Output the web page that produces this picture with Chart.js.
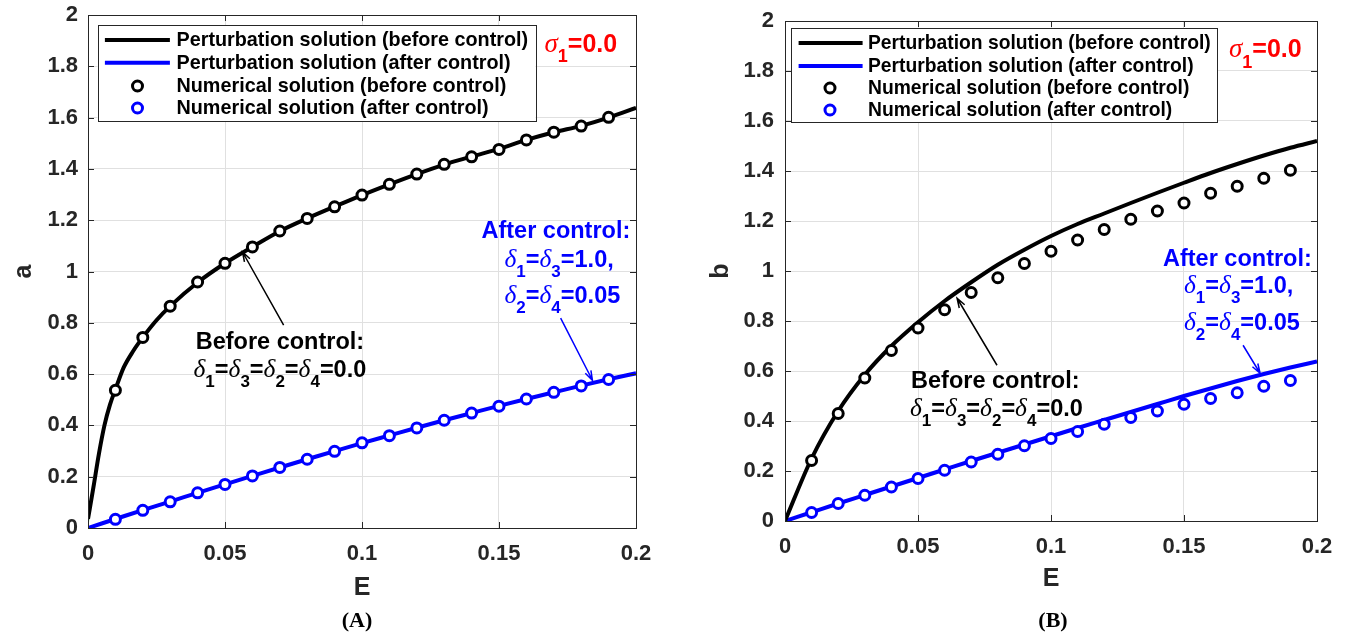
<!DOCTYPE html>
<html>
<head>
<meta charset="utf-8">
<script src="https://cdn.jsdelivr.net/npm/chart.js@4.4.0/dist/chart.umd.min.js"></script>
<style>
  html, body { margin: 0; padding: 0; background: #fff; width: 1353px; height: 634px; overflow: hidden; }
  .panel { position: absolute; top: 0; }
  #wrapA { left: 0; }
  #wrapB { left: 676px; }
  .cap { position: absolute; top: 620px; transform: translate(-50%, -50%);
         font: bold 22px "Liberation Serif", "Times New Roman", serif; color: #000; white-space: nowrap; }
</style>
</head>
<body>
<div class="panel" id="wrapA"><canvas id="chartA" width="676" height="610"></canvas></div>
<div class="panel" id="wrapB"><canvas id="chartB" width="677" height="610"></canvas></div>
<div class="cap" style="left:357px">(A)</div>
<div class="cap" style="left:1053px">(B)</div>

<script>
// ---------- data ----------
const E_NUM = [0.01, 0.02, 0.03, 0.04, 0.05, 0.06, 0.07, 0.08, 0.09, 0.10,
               0.11, 0.12, 0.13, 0.14, 0.15, 0.16, 0.17, 0.18, 0.19];
const E_PERT = [0, 0.01, 0.02, 0.03, 0.04, 0.05, 0.06, 0.07, 0.08, 0.09, 0.10,
                0.11, 0.12, 0.13, 0.14, 0.15, 0.16, 0.17, 0.18, 0.19, 0.20];
const E_PERT_A_BEFORE = [0, 0.002, 0.004, 0.006, 0.008, 0.01, 0.013, 0.0165, 0.02, 0.025, 0.03,
                         0.04, 0.05, 0.06, 0.07, 0.08, 0.09, 0.10, 0.11, 0.12,
                         0.13, 0.14, 0.15, 0.16, 0.17, 0.18, 0.19, 0.20];

// amplitude a
const A_PERT_BEFORE = [0.035, 0.16, 0.29, 0.40, 0.48, 0.54, 0.625, 0.69, 0.743, 0.81, 0.865,
                       0.957, 1.032, 1.096, 1.157, 1.207, 1.253, 1.298, 1.34, 1.38,
                       1.417, 1.448, 1.478, 1.513, 1.543, 1.568, 1.600, 1.638];
const A_PERT_AFTER = [0, 0.035, 0.07, 0.103, 0.137, 0.170, 0.203, 0.236, 0.268, 0.300, 0.331,
                      0.361, 0.391, 0.420, 0.448, 0.476, 0.503, 0.529, 0.555, 0.580, 0.603];
const A_NUM_BEFORE = [0.537, 0.743, 0.865, 0.959, 1.032, 1.096, 1.158, 1.207, 1.252, 1.298,
                      1.340, 1.380, 1.418, 1.447, 1.476, 1.513, 1.543, 1.567, 1.601];
const A_NUM_AFTER = [0.034, 0.069, 0.102, 0.137, 0.170, 0.203, 0.236, 0.268, 0.299, 0.332,
                     0.360, 0.390, 0.420, 0.448, 0.475, 0.503, 0.529, 0.554, 0.579];
const A_START_E = [0, 0];
const A_START_V = [0.03, 0];

// amplitude b
const B_PERT_BEFORE = [0, 0.25, 0.44, 0.585, 0.70, 0.795, 0.88, 0.955, 1.025, 1.085, 1.14,
                       1.188, 1.23, 1.272, 1.313, 1.353, 1.392, 1.428, 1.462, 1.493, 1.52];
const B_PERT_AFTER = [0, 0.035, 0.07, 0.104, 0.138, 0.172, 0.206, 0.24, 0.273, 0.306, 0.339,
                      0.372, 0.404, 0.436, 0.468, 0.50, 0.53, 0.56, 0.588, 0.614, 0.638];
const B_NUM_BEFORE = [0.242, 0.43, 0.572, 0.682, 0.772, 0.845, 0.914, 0.973, 1.03, 1.079,
                      1.124, 1.166, 1.207, 1.24, 1.272, 1.311, 1.339, 1.371, 1.403];
const B_NUM_AFTER = [0.034, 0.07, 0.103, 0.136, 0.17, 0.203, 0.236, 0.267, 0.301, 0.33,
                     0.358, 0.387, 0.414, 0.44, 0.467, 0.49, 0.513, 0.539, 0.562];
const B_START_E = [0];
const B_START_V = [0];

const X_TICKS = [0, 0.05, 0.1, 0.15, 0.2];
const X_TICK_LABELS = ['0', '0.05', '0.1', '0.15', '0.2'];
const Y_TICKS = [0, 0.2, 0.4, 0.6, 0.8, 1, 1.2, 1.4, 1.6, 1.8, 2];
const Y_TICK_LABELS = ['0', '0.2', '0.4', '0.6', '0.8', '1', '1.2', '1.4', '1.6', '1.8', '2'];

const LEGEND_LABELS = ['Perturbation solution (before control)',
                       'Perturbation solution (after control)',
                       'Numerical solution (before control)',
                       'Numerical solution (after control)'];

// ---------- helpers ----------
const SANS = '"Liberation Sans", Arial, Helvetica, sans-serif';
const SERIF = '"Liberation Serif", "Times New Roman", serif';
const AXIS_COLOR = '#262626';
const zip = (xs, ys) => xs.map((x, i) => ({ x: x, y: ys[i] }));

// rich text: parts are [text, kind]; kind 'b' bold sans, 'g' italic greek, 's' subscript
function drawRich(ctx, x, y, parts, color, size) {
  ctx.save();
  ctx.fillStyle = color;
  ctx.textAlign = 'left';
  ctx.textBaseline = 'alphabetic';
  let cx = x;
  for (const [t, kind] of parts) {
    let dy = 0;
    if (kind === 'g') ctx.font = 'italic ' + (size + 2) + 'px ' + SERIF;
    else if (kind === 's') { ctx.font = 'bold ' + Math.round(size * 0.72) + 'px ' + SANS; dy = size * 0.42; }
    else ctx.font = 'bold ' + size + 'px ' + SANS;
    ctx.fillText(t, cx, y + dy);
    cx += ctx.measureText(t).width;
  }
  ctx.restore();
}

function drawArrow(ctx, x0, y0, x1, y1, color) {
  const ang = Math.atan2(y1 - y0, x1 - x0);
  const hl = 10, ha = 0.32;
  ctx.save();
  ctx.strokeStyle = color;
  ctx.lineWidth = 1.5;
  ctx.beginPath();
  ctx.moveTo(x0, y0);
  ctx.lineTo(x1, y1);
  ctx.moveTo(x1 - hl * Math.cos(ang - ha), y1 - hl * Math.sin(ang - ha));
  ctx.lineTo(x1, y1);
  ctx.lineTo(x1 - hl * Math.cos(ang + ha), y1 - hl * Math.sin(ang + ha));
  ctx.stroke();
  ctx.restore();
}

// axes box with inward ticks, legend, annotations
const panelDecor = {
  id: 'panelDecor',
  afterDatasetsDraw(chart, args, opts) {
    const ctx = chart.ctx;
    const { left, right, top, bottom } = chart.chartArea;
    const xs = chart.scales.x, ys = chart.scales.y;

    ctx.save();
    ctx.strokeStyle = AXIS_COLOR;
    ctx.lineWidth = 1;
    ctx.strokeRect(Math.round(left) + 0.5, Math.round(top) + 0.5,
                   Math.round(right - left), Math.round(bottom - top));
    ctx.beginPath();
    for (const v of X_TICKS) {
      const px = Math.round(xs.getPixelForValue(v)) + 0.5;
      ctx.moveTo(px, bottom); ctx.lineTo(px, bottom - 6);
      ctx.moveTo(px, top); ctx.lineTo(px, top + 6);
    }
    for (const v of Y_TICKS) {
      const py = Math.round(ys.getPixelForValue(v)) + 0.5;
      ctx.moveTo(left, py); ctx.lineTo(left + 6, py);
      ctx.moveTo(right, py); ctx.lineTo(right - 6, py);
    }
    ctx.stroke();
    ctx.restore();

    // annotation arrows and texts
    for (const a of opts.arrows) {
      drawArrow(ctx, xs.getPixelForValue(a.from[0]), ys.getPixelForValue(a.from[1]),
                xs.getPixelForValue(a.to[0]), ys.getPixelForValue(a.to[1]), a.color);
    }
    for (const n of opts.notes) {
      drawRich(ctx, xs.getPixelForValue(n.at[0]), ys.getPixelForValue(n.at[1]), n.parts, n.color, n.size);
    }

    // legend
    const L = opts.legend;
    const bx = left + L.dx, by = top + L.dy;
    ctx.save();
    ctx.fillStyle = '#fff';
    ctx.fillRect(bx, by, L.w, L.h);
    ctx.strokeStyle = AXIS_COLOR;
    ctx.lineWidth = 1;
    ctx.strokeRect(Math.round(bx) + 0.5, Math.round(by) + 0.5, L.w, L.h);
    const items = chart.data.datasets.filter(d => d.legendRank !== undefined)
                                     .sort((p, q) => p.legendRank - q.legendRank);
    items.forEach((d, i) => {
      const ry = by + L.rows[i];
      if (d.showLine) {
        ctx.strokeStyle = d.borderColor;
        ctx.lineWidth = d.borderWidth;
        ctx.beginPath();
        ctx.moveTo(bx + L.line0, ry);
        ctx.lineTo(bx + L.line1, ry);
        ctx.stroke();
      } else {
        ctx.strokeStyle = d.borderColor;
        ctx.fillStyle = '#fff';
        ctx.lineWidth = d.borderWidth;
        ctx.beginPath();
        ctx.arc(bx + L.mark, ry, d.pointRadius, 0, Math.PI * 2);
        ctx.fill();
        ctx.stroke();
      }
      ctx.fillStyle = '#000';
      ctx.font = 'bold ' + L.font + 'px ' + SANS;
      ctx.textBaseline = 'middle';
      ctx.textAlign = 'left';
      ctx.fillText(d.label, bx + L.text, ry + 1);
    });
    ctx.restore();
  }
};

function datasets(ePertBefore, pertBefore, pertAfter, numBefore, numAfter, startE, startV) {
  return [
    { label: 'start', data: zip(startE, startV), showLine: false, pointStyle: 'rect',
      pointRadius: 1.6, pointBorderWidth: 0, backgroundColor: '#00e600', borderColor: '#00e600', order: 0 },
    { label: LEGEND_LABELS[2], legendRank: 2, data: zip(E_NUM, numBefore), showLine: false,
      pointRadius: 5, borderWidth: 3, pointBorderWidth: 3, borderColor: '#000000',
      backgroundColor: '#ffffff', pointBackgroundColor: '#ffffff', order: 1 },
    { label: LEGEND_LABELS[3], legendRank: 3, data: zip(E_NUM, numAfter), showLine: false,
      pointRadius: 5, borderWidth: 3, pointBorderWidth: 3, borderColor: '#0000ff',
      backgroundColor: '#ffffff', pointBackgroundColor: '#ffffff', order: 1 },
    { label: LEGEND_LABELS[0], legendRank: 0, data: zip(ePertBefore, pertBefore), showLine: true,
      pointRadius: 0, borderWidth: 4, borderColor: '#000000', cubicInterpolationMode: 'monotone', order: 2 },
    { label: LEGEND_LABELS[1], legendRank: 1, data: zip(E_PERT, pertAfter), showLine: true,
      pointRadius: 0, borderWidth: 4, borderColor: '#0000ff', cubicInterpolationMode: 'monotone', order: 2 }
  ];
}

function makeChart(id, p) {
  return new Chart(document.getElementById(id), {
    type: 'scatter',
    data: { datasets: p.datasets },
    plugins: [panelDecor],
    options: {
      responsive: false,
      animation: false,
      devicePixelRatio: 1,
      layout: { padding: p.padding },
      plugins: {
        legend: { display: false },
        tooltip: { enabled: false },
        panelDecor: { legend: p.legend, notes: p.notes, arrows: p.arrows }
      },
      scales: {
        x: {
          type: 'linear', min: 0, max: 0.2,
          afterFit(s) { s.height = p.xHeight; s.paddingLeft = 0; s.paddingRight = 0; },
          afterBuildTicks(s) { s.ticks = X_TICKS.map(v => ({ value: v })); },
          grid: { color: '#e0e0e0', lineWidth: 1, drawTicks: false },
          border: { display: false },
          ticks: { padding: p.xTickPad, color: AXIS_COLOR, maxRotation: 0,
                   font: { family: SANS, size: 22, weight: 'bold' },
                   callback: (v, i) => X_TICK_LABELS[i] },
          title: { display: true, text: 'E', color: AXIS_COLOR, padding: { top: 0, bottom: 0 },
                   font: { family: SANS, size: 25, weight: 'bold' } }
        },
        y: {
          type: 'linear', min: 0, max: 2,
          afterFit(s) { s.width = p.yWidth; s.paddingTop = 0; s.paddingBottom = 0; },
          afterBuildTicks(s) { s.ticks = Y_TICKS.map(v => ({ value: v })); },
          grid: { color: '#e0e0e0', lineWidth: 1, drawTicks: false },
          border: { display: false },
          ticks: { padding: p.yTickPad, color: AXIS_COLOR,
                   font: { family: SANS, size: 22, weight: 'bold' },
                   callback: (v, i) => Y_TICK_LABELS[i] },
          title: { display: true, text: p.yTitle, color: AXIS_COLOR, padding: { top: p.yTitlePad, bottom: 0 },
                   font: { family: SANS, size: 25, weight: 'bold' } }
        }
      }
    }
  });
}

const BLUE = '#0000ff', BLACK = '#000000', RED = '#ff0000';

makeChart('chartA', {
  yTitle: 'a',
  padding: { left: 0, top: 15, right: 40, bottom: 7 },
  xHeight: 75, yWidth: 88, xTickPad: 13, yTickPad: 10, yTitlePad: 9.5,
  datasets: datasets(E_PERT_A_BEFORE, A_PERT_BEFORE, A_PERT_AFTER, A_NUM_BEFORE, A_NUM_AFTER, A_START_E, A_START_V),
  legend: { dx: 9.5, dy: 10, w: 438, h: 96, rows: [15, 37.7, 61, 83],
            line0: 7.4, line1: 72.4, mark: 40, text: 79, font: 19.8 },
  arrows: [
    { from: [0.0714, 0.791], to: [0.0564, 1.076], color: BLACK },
    { from: [0.1725, 0.818], to: [0.1841, 0.576], color: BLUE }
  ],
  notes: [
    { at: [0.1666, 1.856], color: RED, size: 25, parts: [['σ', 'g'], ['1', 's'], ['=0.0', 'b']] },
    { at: [0.1436, 1.130], color: BLUE, size: 23.5, parts: [['After control:', 'b']] },
    { at: [0.1520, 1.017], color: BLUE, size: 23.5, parts: [['δ', 'g'], ['1', 's'], ['=', 'b'], ['δ', 'g'], ['3', 's'], ['=1.0,', 'b']] },
    { at: [0.1520, 0.877], color: BLUE, size: 23.5, parts: [['δ', 'g'], ['2', 's'], ['=', 'b'], ['δ', 'g'], ['4', 's'], ['=0.05', 'b']] },
    { at: [0.0393, 0.697], color: BLACK, size: 23.5, parts: [['Before control:', 'b']] },
    { at: [0.0385, 0.588], color: BLACK, size: 23.5, parts: [['δ', 'g'], ['1', 's'], ['=', 'b'], ['δ', 'g'], ['3', 's'], ['=', 'b'],
                                                            ['δ', 'g'], ['2', 's'], ['=', 'b'], ['δ', 'g'], ['4', 's'], ['=0.0', 'b']] }
  ]
});

makeChart('chartB', {
  yTitle: 'b',
  padding: { left: 0, top: 21, right: 36, bottom: 15.5 },
  xHeight: 73.5, yWidth: 109, xTickPad: 13, yTickPad: 11, yTitlePad: 30,
  datasets: datasets(E_PERT, B_PERT_BEFORE, B_PERT_AFTER, B_NUM_BEFORE, B_NUM_AFTER, B_START_E, B_START_V),
  legend: { dx: 6, dy: 7, w: 426, h: 94, rows: [15, 38, 60, 82],
            line0: 7.6, line1: 71.6, mark: 39, text: 77, font: 19.3 },
  arrows: [
    { from: [0.0797, 0.623], to: [0.0647, 0.891], color: BLACK },
    { from: [0.1722, 0.703], to: [0.1786, 0.591], color: BLUE }
  ],
  notes: [
    { at: [0.1669, 1.855], color: RED, size: 25, parts: [['σ', 'g'], ['1', 's'], ['=0.0', 'b']] },
    { at: [0.1421, 1.019], color: BLUE, size: 23.5, parts: [['After control:', 'b']] },
    { at: [0.150, 0.911], color: BLUE, size: 23.5, parts: [['δ', 'g'], ['1', 's'], ['=', 'b'], ['δ', 'g'], ['3', 's'], ['=1.0,', 'b']] },
    { at: [0.150, 0.763], color: BLUE, size: 23.5, parts: [['δ', 'g'], ['2', 's'], ['=', 'b'], ['δ', 'g'], ['4', 's'], ['=0.05', 'b']] },
    { at: [0.0474, 0.531], color: BLACK, size: 23.5, parts: [['Before control:', 'b']] },
    { at: [0.047, 0.419], color: BLACK, size: 23.5, parts: [['δ', 'g'], ['1', 's'], ['=', 'b'], ['δ', 'g'], ['3', 's'], ['=', 'b'],
                                                           ['δ', 'g'], ['2', 's'], ['=', 'b'], ['δ', 'g'], ['4', 's'], ['=0.0', 'b']] }
  ]
});
</script>
</body>
</html>
